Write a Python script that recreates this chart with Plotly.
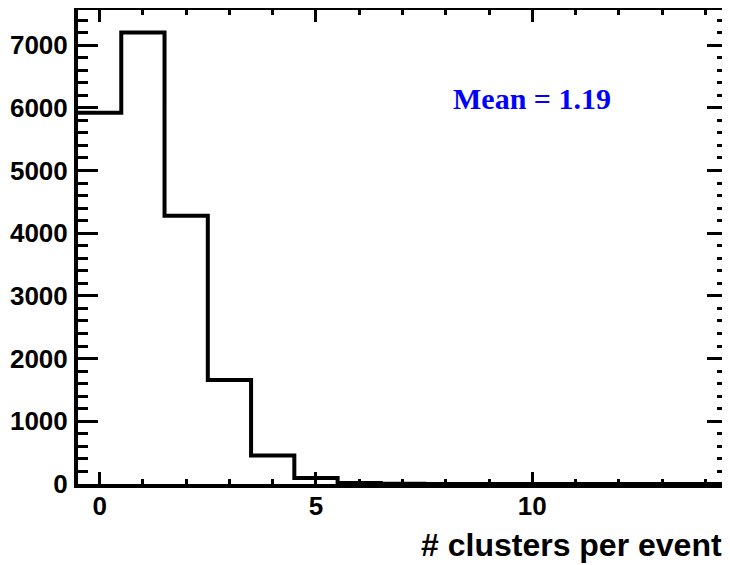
import plotly.graph_objects as go

# Histogram data: number of clusters per event (bin centers 0..14)
bin_centers = list(range(15))
counts = [5920, 7200, 4280, 1660, 455, 95, 15, 3, 1, 0, 0, 0, 0, 0, 0]
x_tickvals = [0, 5, 10]
x_ticktext = ["0", "5", "10"]
y_tickvals = [0, 1000, 2000, 3000, 4000, 5000, 6000, 7000]
mean_label = "Mean = 1.19"
x_title = "# clusters per event"

# Step outline from bin edges
edges = [c - 0.5 for c in bin_centers] + [bin_centers[-1] + 0.5]
step_y = counts + [counts[-1]]

fig = go.Figure()
fig.add_trace(go.Scatter(
    x=edges, y=step_y, mode="lines",
    line=dict(shape="hv", color="black", width=4),
    hoverinfo="skip", showlegend=False, cliponaxis=False,
))

tickfont = dict(family="Liberation Sans", size=26, color="black", weight="bold")

# the page body has an 8px margin, so the figure is sized to fit the window
fig.update_layout(
    width=722, height=557,
    margin=dict(l=70, r=3, t=2, b=81, autoexpand=False),
    paper_bgcolor="white", plot_bgcolor="white",
    showlegend=False,
)
fig.update_xaxes(
    range=[-0.5, 14.5], showgrid=False, zeroline=False, automargin=False,
    showline=True, linecolor="black", linewidth=4, mirror="ticks",
    ticks="inside", ticklen=12, tickwidth=3, tickcolor="black",
    tickvals=x_tickvals, ticktext=x_ticktext, tickfont=tickfont,
    ticklabelstandoff=-4,
    minor=dict(dtick=1, ticks="inside", ticklen=5, tickwidth=3, tickcolor="black", showgrid=False),
)
fig.update_yaxes(
    range=[0, 7560], showgrid=False, zeroline=False, automargin=False,
    showline=True, linecolor="black", linewidth=4, mirror="ticks",
    ticks="inside", ticklen=20, tickwidth=3, tickcolor="black",
    tickvals=y_tickvals, tickfont=tickfont, ticklabelstandoff=1,
    minor=dict(dtick=200, ticks="inside", ticklen=10, tickwidth=3, tickcolor="black", showgrid=False),
)

fig.add_annotation(
    text=x_title, xref="paper", yref="paper", x=1, y=0,
    xanchor="right", yanchor="middle", xshift=-3, yshift=-61,
    showarrow=False,
    font=dict(family="Liberation Sans", size=32, color="black", weight="bold"),
)
fig.add_annotation(
    text=mean_label, xref="paper", yref="paper", x=0.70, y=0.814,
    xanchor="center", yanchor="middle", showarrow=False,
    font=dict(family="Liberation Serif", size=30, color="#0000ff", weight="bold"),
)

fig.write_html("out.html")
